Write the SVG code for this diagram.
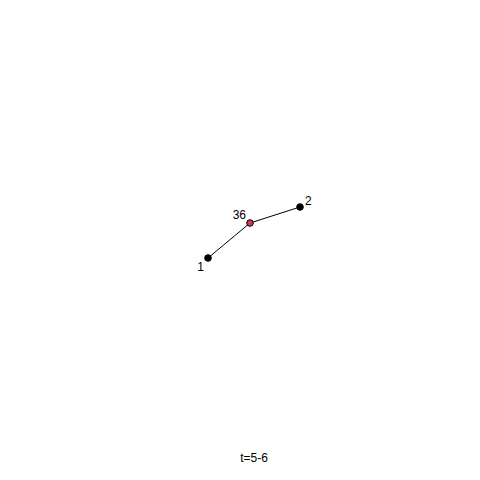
<svg xmlns="http://www.w3.org/2000/svg" width="480" height="480" viewBox="0 0 480 480">
<style>
text{font-family:"Liberation Sans",Arial,sans-serif;font-size:12px;fill:#000}
.n{stroke:#000;stroke-width:1}
.e{stroke:#000;stroke-width:1;fill:none}
</style>
<rect width="480" height="480" fill="#fff"/>
<g id="edges">
<line class="e" x1="208" y1="258" x2="250" y2="223"/>
<line class="e" x1="250" y1="223" x2="300" y2="207"/>
</g>
<g id="node1"><circle class="n" cx="208" cy="258" r="3.3" fill="#000"/><text x="204" y="271" text-anchor="end">1</text></g>
<g id="node36"><circle class="n" cx="250" cy="223" r="3.3" fill="#d33a5c"/><text x="246" y="219" text-anchor="end">36</text></g>
<g id="node2"><circle class="n" cx="300" cy="207" r="3.3" fill="#000"/><text x="305" y="205">2</text></g>
<text x="254" y="462" text-anchor="middle">t=5-6</text>
</svg>
